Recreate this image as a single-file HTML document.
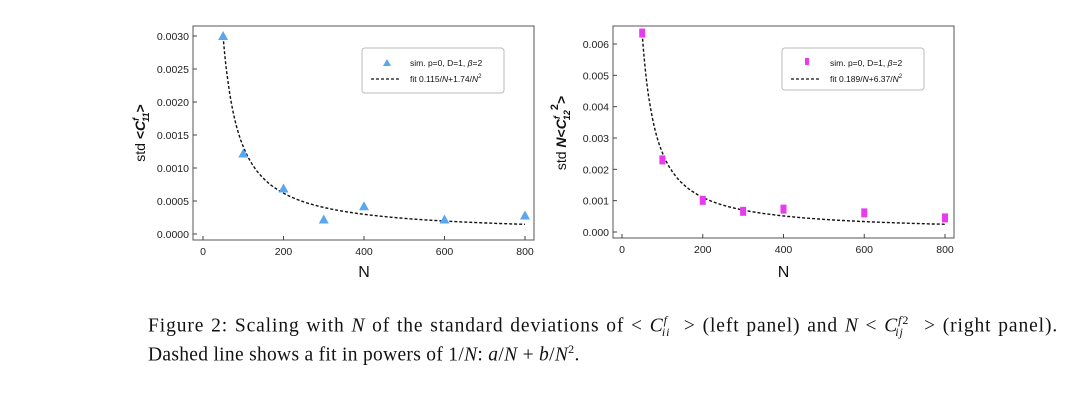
<!DOCTYPE html>
<html><head><meta charset="utf-8"><style>
body{margin:0;background:#fff;width:1080px;height:406px;overflow:hidden;position:relative;font-family:"Liberation Sans",sans-serif}
.cap{position:absolute;left:148px;font-family:"Liberation Serif",serif;font-size:19.5px;white-space:nowrap;color:#111}
i{font-style:italic}
</style></head><body>
<svg id="chart" width="1080" height="300" style="position:absolute;left:0;top:0"></svg>
<div class="cap" style="top:313px;letter-spacing:0.9px;word-spacing:1px">Figure 2: Scaling with <i>N</i> of the standard deviations of &lt; <i>C</i><sup style="font-size:12px"><i>f</i></sup><sub style="font-size:12px;margin-left:-6px"><i>ii</i></sub>&nbsp; &gt; (left panel) and <i>N</i> &lt; <i>C</i><sup style="font-size:12px"><i>f</i>2</sup><sub style="font-size:12px;margin-left:-14px"><i>ij</i></sub>&nbsp;&nbsp; &gt; (right panel).</div>
<div class="cap" style="top:342px;letter-spacing:0.3px">Dashed line shows a fit in powers of 1/<i>N</i>: <i>a</i>/<i>N</i> + <i>b</i>/<i>N</i><sup style="font-size:12px">2</sup>.</div>
<script>
const nValues = [50,100,200,300,400,600,800];
const leftValues = [0.0030,0.00122,0.00069,0.00022,0.00042,0.00022,0.00028];
const rightValues = [0.00635,0.0023,0.00101,0.00066,0.00073,0.00061,0.00045];
const leftFit = [0.115,1.74];
const rightFit = [0.189,6.37];
const xTicks = [0,200,400,600,800];
const leftYTicks = [0,0.0005,0.0010,0.0015,0.0020,0.0025,0.0030];
const leftYLabels = ["0.0000","0.0005","0.0010","0.0015","0.0020","0.0025","0.0030"];
const rightYTicks = [0,0.001,0.002,0.003,0.004,0.005,0.006];
const rightYLabels = ["0.000","0.001","0.002","0.003","0.004","0.005","0.006"];

const svg=document.getElementById('chart');const NS='http://www.w3.org/2000/svg';
function mk(t,a,p){const e=document.createElementNS(NS,t);for(const k in a)e.setAttribute(k,a[k]);(p||svg).appendChild(e);return e;}

function panel(o){
  const g=mk('g',{});
  
  
  const sx=v=>o.x0+(v-0)*(o.x800-o.x0)/800;
  const sy=v=>o.y0-(v)*(o.y0-o.yTop)/o.yTopVal;
  const fr=mk('rect',{x:o.fl,y:26,width:o.fr-o.fl,height:o.fb-26,fill:'none',stroke:'#555','stroke-width':1},g);
  
  
  xTicks.forEach(t=>{
    mk('line',{x1:sx(t),x2:sx(t),y1:o.fb,y2:o.fb-4,stroke:'#444'},g);
    const tx=mk('text',{x:sx(t),y:o.fb+15,'font-size':10.5,'text-anchor':'middle',fill:'#222'},g);
    tx.textContent=t;
    
    
  });
  o.yt.forEach((t,i)=>{
    mk('line',{x1:o.fl,x2:o.fl+4,y1:sy(t),y2:sy(t),stroke:'#444'},g);
    const tx=mk('text',{x:o.fl-4,y:sy(t)+4,'font-size':10.5,'text-anchor':'end',fill:'#222'},g);
    tx.textContent=o.yl[i];
    
    
  });
  const xl=mk('text',{x:(sx(0)+sx(800))/2,y:277,'font-size':16,'text-anchor':'middle',fill:'#111'},g);
  xl.textContent='N';
  
  
  const yl=mk('text',{x:0,y:0,'font-size':14,'text-anchor':'middle',fill:'#111',transform:`translate(${o.ylx},133) rotate(-90)`},g);
  yl.innerHTML=o.ylabel;
  
  
  let d='';for(let n=50;n<=800;n+=2){const v=o.fit[0]/n+o.fit[1]/(n*n);d+=(d?'L':'M')+sx(n).toFixed(1)+','+sy(v).toFixed(1);}
  const fl=mk('path',{d,fill:'none',stroke:'#111','stroke-width':1.4,'stroke-dasharray':'3,2'},g);
  
  
  o.vals.forEach((v,i)=>{
    const x=sx(nValues[i]),y=sy(v);let m;
    if(o.tri) m=mk('path',{d:`M${x},${y-5}L${x+5},${y+4}L${x-5},${y+4}Z`,fill:'#5aa7ef'},g);
    else m=mk('rect',{x:x-3,y:y-4.5,width:6,height:9,fill:'#e83bf0'},g);
    
    
  });
  const lg=mk('g',{},g);
  
  
  mk('rect',{x:o.lx,y:48,width:142,height:o.lh,rx:3,fill:'#fff',stroke:'#bbb'},lg);
  if(o.tri) mk('path',{d:`M${o.lx+25},${59}L${o.lx+29},${66}L${o.lx+21},${66}Z`,fill:'#5aa7ef'},lg);
  else mk('rect',{x:o.lx+23,y:58,width:4,height:7,fill:'#e83bf0'},lg);
  mk('line',{x1:o.lx+9,x2:o.lx+38,y1:79,y2:79,stroke:'#111','stroke-width':1.2,'stroke-dasharray':'3,2'},lg);
  const t1=mk('text',{x:o.lx+48,y:66,'font-size':8.5,fill:'#111'},lg);
  t1.innerHTML='sim. p=0, D=1, <tspan font-style="italic">β</tspan>=2';
  
  
  const t2=mk('text',{x:o.lx+48,y:82,'font-size':8.5,fill:'#111'},lg);
  t2.innerHTML=`fit ${o.fit[0]}/<tspan font-style="italic">N</tspan>+${o.fit[1]}/<tspan font-style="italic">N</tspan><tspan font-size="6" dy="-4">2</tspan>`;
  
  
}
panel({name:'left-panel',fl:193,fr:534,fb:240,x0:203,x800:525,y0:234,yTop:36,yTopVal:0.003,yt:leftYTicks,yl:leftYLabels,vals:leftValues,fit:leftFit,tri:true,lx:362,lh:45,ylx:145,
 ylabel:'std <tspan font-weight="bold">&lt;<tspan font-style="italic">C</tspan><tspan font-size="9" dy="-6" font-style="italic">f</tspan><tspan font-size="9" dy="10" dx="-4" font-style="italic">11</tspan><tspan dy="-4">&gt;</tspan></tspan>'});
panel({name:'right-panel',fl:613,fr:954,fb:238,x0:622,x800:945,y0:232,yTop:44,yTopVal:0.006,yt:rightYTicks,yl:rightYLabels,vals:rightValues,fit:rightFit,tri:false,lx:782,lh:42,ylx:566,
 ylabel:'std <tspan font-weight="bold"><tspan font-style="italic">N</tspan>&lt;<tspan font-style="italic">C</tspan><tspan font-size="9" dy="-6" font-style="italic">f</tspan><tspan font-size="9" dy="10" dx="-4" font-style="italic">12</tspan><tspan font-size="11" dy="-12">2</tspan><tspan dy="8">&gt;</tspan></tspan>'});
</script>
</body></html>
